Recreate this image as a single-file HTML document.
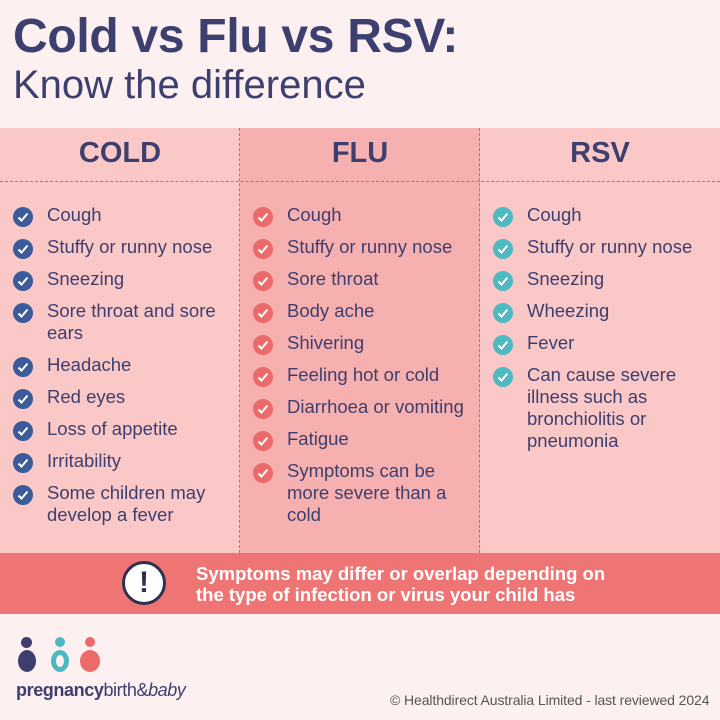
<!DOCTYPE html>
<html><head><style>
*{margin:0;padding:0;box-sizing:border-box}
body{width:720px;height:720px;overflow:hidden;background:#fdf0f0;font-family:"Liberation Sans",sans-serif;position:relative;color:#3d3f6e}
.a{position:absolute}
.t1{left:13px;top:9px;font-size:48px;font-weight:bold;letter-spacing:-0.3px}
.t2{left:13px;top:63px;font-size:40px}
.col{top:128px;height:425px;width:240px}
.h{top:137px;font-size:29px;font-weight:bold;width:240px;text-align:center}
.it{font-size:18.5px;line-height:22px;width:220px}
.ic{width:20px;height:20px;border-radius:50%}
.ic svg{display:block}
</style></head><body>
<div class="a t1">Cold vs Flu vs RSV:</div>
<div class="a t2">Know the difference</div>
<div class="a col" style="left:0;background:#fbc8c8"></div>
<div class="a col" style="left:240px;background:#f7b0b0"></div>
<div class="a col" style="left:480px;background:#fbc8c8"></div>
<div class="a" style="left:0;top:181px;width:720px;border-top:1.5px dashed #9a7a8a"></div>
<div class="a" style="left:239px;top:128px;height:425px;border-left:1.5px dashed #9a7a8a"></div>
<div class="a" style="left:479px;top:128px;height:425px;border-left:1.5px dashed #9a7a8a"></div>
<div class="a h" style="left:0">COLD</div>
<div class="a h" style="left:240px">FLU</div>
<div class="a h" style="left:480px">RSV</div>
<div id="items"></div>
<div class="a" style="left:0;top:553px;width:720px;height:61px;background:#ef7474"></div>
<div class="a" style="left:122px;top:561px;width:44px;height:44px;border-radius:50%;background:#fff;border:3px solid #2f3050;text-align:center;font-size:30px;font-weight:bold;line-height:38px;color:#2f3050">!</div>
<div class="a" style="left:196px;top:563px;font-size:18.5px;font-weight:bold;color:#fff;line-height:21px">Symptoms may differ or overlap depending on<br>the type of infection or virus your child has</div>
<div class="a" style="left:21px;top:637px;width:11px;height:11px;border-radius:50%;background:#3d3f6e"></div>
<div class="a" style="left:18px;top:650px;width:18px;height:22px;border-radius:50%;background:#3d3f6e"></div>
<div class="a" style="left:55px;top:637px;width:10px;height:10px;border-radius:50%;background:#4fb8c0"></div>
<div class="a" style="left:51px;top:650px;width:18px;height:22px;border-radius:50%;border:5px solid #4fb8c0"></div>
<div class="a" style="left:85px;top:637px;width:10px;height:10px;border-radius:50%;background:#ec6a6a"></div>
<div class="a" style="left:80px;top:650px;width:20px;height:22px;border-radius:50%;background:#ec6a6a"></div>
<div class="a" style="left:16px;top:680px;font-size:18px;color:#3d3f6e;letter-spacing:-0.4px"><b>pregnancy</b>birth&amp;<i>baby</i></div>
<div class="a" style="left:390px;top:692px;font-size:14px;color:#555;letter-spacing:-0.1px">© Healthdirect Australia Limited - last reviewed 2024</div>
<script>
var cols=[[0,"#3d5a99",["Cough","Stuffy or runny nose","Sneezing","Sore throat and sore|ears","Headache","Red eyes","Loss of appetite","Irritability","Some children may|develop a fever"]],
[240,"#ec6a6a",["Cough","Stuffy or runny nose","Sore throat","Body ache","Shivering","Feeling hot or cold","Diarrhoea or vomiting","Fatigue","Symptoms can be|more severe than a|cold"]],
[480,"#4fb8c0",["Cough","Stuffy or runny nose","Sneezing","Wheezing","Fever","Can cause severe|illness such as|bronchiolitis or|pneumonia"]]];
var h="";
cols.forEach(function(c){var y=204;c[2].forEach(function(t){var l=t.split("|");
h+='<div class="a ic" style="left:'+(c[0]+13)+'px;top:'+(y+3)+'px;background:'+c[1]+'"><svg width="20" height="20"><path d="M5.5 10.5l3 3 6-7" stroke="#fff" stroke-width="2" fill="none"/></svg></div>';
h+='<div class="a it" style="left:'+(c[0]+47)+'px;top:'+y+'px">'+l.join("<br>")+'</div>';
y+=32+22*(l.length-1);});});
document.getElementById("items").innerHTML=h;
</script>
</body></html>
